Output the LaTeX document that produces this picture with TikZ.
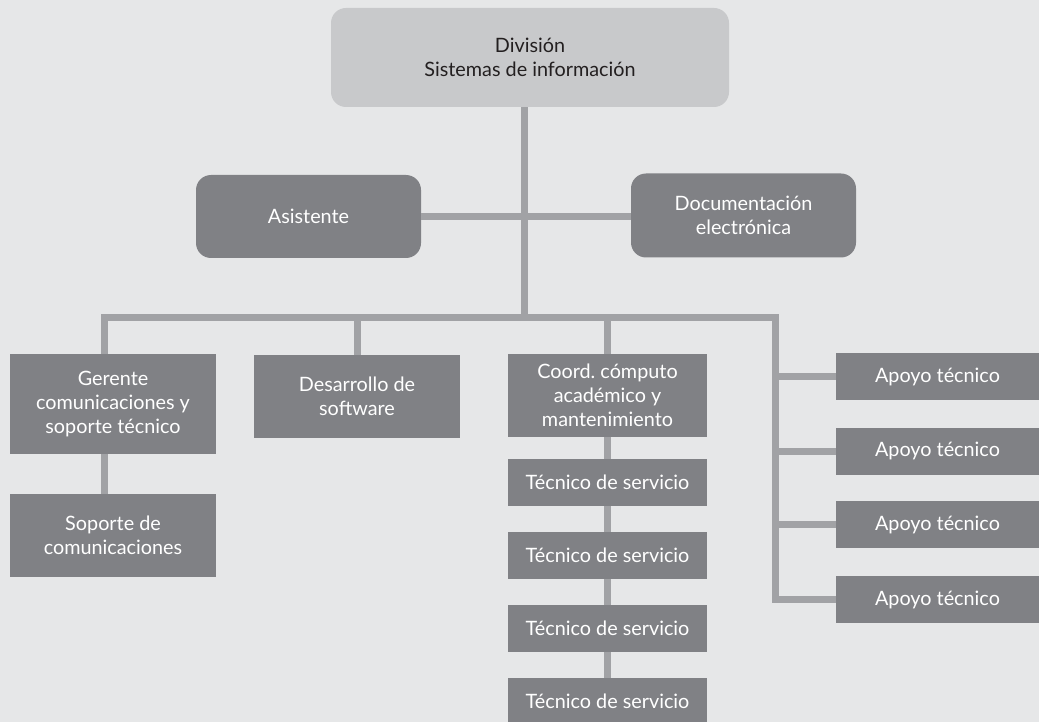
\documentclass[tikz,border=0pt]{standalone}
\usepackage{fontspec}
\setmainfont{Lato}
\definecolor{fondo}{HTML}{E6E7E8}
\definecolor{cajaclara}{HTML}{C8C9CB}
\definecolor{cajaoscura}{HTML}{808185}
\definecolor{linea}{HTML}{A1A2A5}
\definecolor{textoosc}{HTML}{231F20}
\begin{document}
\begin{tikzpicture}[x=1pt, y=-1pt,
        caja/.style={fill=cajaoscura, text=white, inner sep=0pt, align=center,
            font=\fontsize{19.8}{24}\selectfont},
        redonda/.style={caja, rounded corners=15pt},
        conector/.style={draw=linea, line width=7pt}]
    \useasboundingbox (0,0) rectangle (1039,722);
    \fill[fondo] (0,0) rectangle (1039,722);
    % Direccion y staff
    \node[redonda, fill=cajaclara, text=textoosc, minimum width=398pt, minimum height=99pt] (div) at (530,57.5) {División\\Sistemas de información};
    \node[redonda, minimum width=225pt, minimum height=83pt] (asis) at (308.5,216.5) {Asistente};
    \node[redonda, minimum width=225pt, minimum height=84pt] (doc) at (743.5,215.5) {Documentación\\electrónica};
    % Areas
    \node[caja, minimum width=206pt, minimum height=100pt] (ger) at (113,404) {Gerente\\comunicaciones y\\soporte técnico};
    \node[caja, minimum width=206pt, minimum height=83pt] (sop) at (113,535.5) {Soporte de\\comunicaciones};
    \node[caja, minimum width=206pt, minimum height=83pt] (des) at (357,396.5) {Desarrollo de\\software};
    \node[caja, minimum width=199pt, minimum height=83pt] (coo) at (607.5,395.5) {Coord.\ cómputo\\académico y\\mantenimiento};
    \foreach \i/\y in {1/482.5, 2/555.5, 3/628.5, 4/701.5}
        \node[caja, minimum width=199pt, minimum height=47pt] (tec\i) at (607.5,\y) {Técnico de servicio};
    \foreach \i/\y in {1/376.5, 2/451, 3/524.5, 4/599.5}
        \node[caja, minimum width=203pt, minimum height=47pt] (apo\i) at (937.5,\y) {Apoyo técnico};
    % Lineas de mando
    \coordinate (bus) at (524,317);
    \coordinate (busI) at (104.5,317);
    \coordinate (busD) at (775.5,317);
    \draw[conector] (div.south -| bus) -- (bus);
    \draw[conector] (asis.east) -- (asis.east -| doc.west);
    \draw[conector] (ger.north -| busI) -- (busI) -- (busD) -- (busD |- apo4.west) -- (apo4.west);
    \draw[conector] (ger.south -| busI) -- (sop.north -| busI);
    \draw[conector] (des.north) -- (des.north |- bus);
    \draw[conector] (coo.north) -- (coo.north |- bus);
    \draw[conector] (coo) -- (tec1) -- (tec2) -- (tec3) -- (tec4);
    \foreach \i in {1,2,3}
        \draw[conector] (apo\i.west -| busD) -- (apo\i.west);
\end{tikzpicture}
\end{document}
